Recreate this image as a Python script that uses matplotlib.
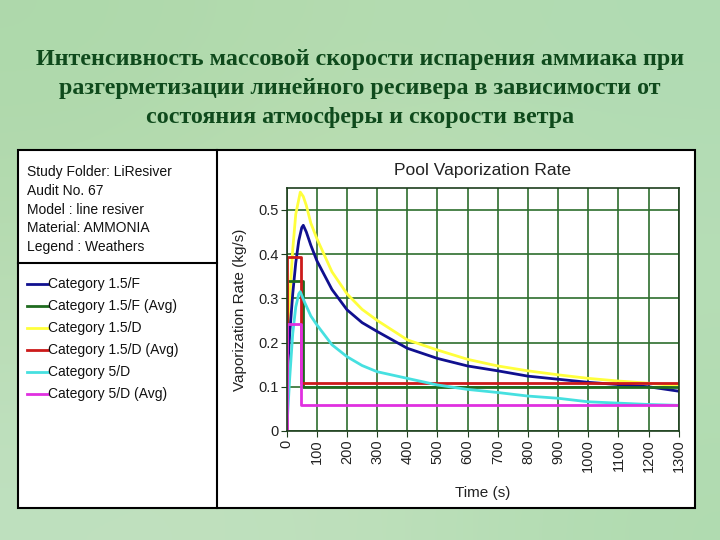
import numpy as np
import matplotlib.pyplot as plt
from matplotlib.patches import Rectangle
from matplotlib.lines import Line2D

# --- data ---
t_blue = [0, 10, 20, 30, 40, 50, 55, 65, 80, 100, 150, 200, 250, 300, 400, 500,
          600, 700, 800, 900, 1000, 1100, 1200, 1300]
v_blue = [0.10, 0.22, 0.31, 0.38, 0.43, 0.46, 0.465, 0.45, 0.42, 0.385, 0.32,
          0.274, 0.245, 0.225, 0.187, 0.164, 0.147, 0.136, 0.124, 0.117, 0.110,
          0.105, 0.100, 0.090]

t_yellow = [0, 10, 20, 30, 45, 55, 65, 80, 100, 150, 200, 250, 300, 400, 500,
            600, 700, 800, 900, 1000, 1100, 1200, 1300]
v_yellow = [0.17, 0.30, 0.41, 0.49, 0.54, 0.53, 0.51, 0.47, 0.435, 0.36, 0.31,
            0.275, 0.25, 0.206, 0.183, 0.162, 0.147, 0.136, 0.127, 0.119, 0.113,
            0.108, 0.102]

t_cyan = [0, 10, 20, 30, 40, 45, 60, 80, 100, 150, 200, 250, 300, 400, 500,
          600, 700, 800, 900, 1000, 1100, 1200, 1300]
v_cyan = [0.0, 0.12, 0.22, 0.28, 0.31, 0.315, 0.29, 0.26, 0.24, 0.195, 0.168,
          0.148, 0.134, 0.119, 0.104, 0.094, 0.087, 0.079, 0.074, 0.066, 0.063,
          0.060, 0.058]

t_green_avg = [0, 0, 55, 55, 1300]
v_green_avg = [0, 0.34, 0.34, 0.10, 0.10]
t_red_avg = [0, 0, 47, 47, 1300]
v_red_avg = [0, 0.393, 0.393, 0.108, 0.108]
t_mag_avg = [0, 0, 47, 47, 1300]
v_mag_avg = [0, 0.243, 0.243, 0.058, 0.058]

x_ticks = list(range(0, 1301, 100))
y_ticks = [0, 0.1, 0.2, 0.3, 0.4, 0.5]
y_labels = ['0', '0.1', '0.2', '0.3', '0.4', '0.5']

legend_names = ['Category 1.5/F', 'Category 1.5/F (Avg)', 'Category 1.5/D',
                'Category 1.5/D (Avg)', 'Category 5/D', 'Category 5/D (Avg)']
colors = ['#10108f', '#1f6b1f', '#ffff3c', '#cc1a1a', '#46e0e0', '#e030e0']

info_lines = ['Study Folder: LiResiver', 'Audit No. 67', 'Model : line resiver',
              'Material: AMMONIA', 'Legend : Weathers']

title = ('Интенсивность массовой скорости испарения аммиака при\n'
         'разгерметизации линейного ресивера в зависимости от\n'
         'состояния атмосферы и скорости ветра')

W, H = 720, 540
plt.rcParams['font.family'] = ['Liberation Sans', 'DejaVu Sans']

fig = plt.figure(figsize=(7.2, 5.4), dpi=100)

# background gradient
bg = fig.add_axes([0, 0, 1, 1], zorder=-10)
grad = np.array([
    [[0.68, 0.85, 0.67], [0.71, 0.86, 0.69], [0.69, 0.86, 0.70]],
    [[0.72, 0.86, 0.70], [0.78, 0.88, 0.71], [0.72, 0.87, 0.72]],
    [[0.75, 0.88, 0.75], [0.75, 0.88, 0.74], [0.69, 0.86, 0.69]],
])
bg.imshow(grad, aspect='auto', interpolation='bicubic', extent=[0, 1, 0, 1])
bg.set_axis_off()


def fx(x):
    return x / W


def fy(y):
    return 1 - y / H


# white panel with borders
fig.patches.append(Rectangle((fx(18), fy(508)), fx(695) - fx(18), fy(150) - fy(508),
                             transform=fig.transFigure, facecolor='white',
                             edgecolor='black', lw=1.5, zorder=-5))
fig.add_artist(Line2D([fx(217), fx(217)], [fy(150), fy(508)], color='black', lw=1.5))
fig.add_artist(Line2D([fx(18), fx(217)], [fy(263), fy(263)], color='black', lw=1.5))

fig.text(0.5, fy(89), title, ha='center', va='center', fontsize=17.3,
         fontweight='bold', family='Liberation Serif', color='#0f4a1c',
         linespacing=1.5)

for i, s in enumerate(info_lines):
    fig.text(fx(27), fy(172 + i * 18.8), s, fontsize=10, va='center', color='#111111')

for i, (name, c) in enumerate(zip(legend_names, colors)):
    y = fy(284 + i * 22)
    fig.add_artist(Line2D([fx(27), fx(48)], [y, y], color=c, lw=2))
    fig.text(fx(48), y, name, fontsize=10, va='center', color='#111111')

ax = fig.add_axes([fx(286.7), fy(431), fx(678.7) - fx(286.7), fy(187.7) - fy(431)])
ax.plot(t_yellow, v_yellow, color=colors[2], lw=2)
ax.plot(t_blue, v_blue, color=colors[0], lw=2)
ax.plot(t_green_avg, v_green_avg, color=colors[1], lw=2)
ax.plot(t_red_avg, v_red_avg, color=colors[3], lw=2)
ax.plot(t_cyan, v_cyan, color=colors[4], lw=2)
ax.plot(t_mag_avg, v_mag_avg, color=colors[5], lw=2)

ax.set_xlim(0, 1300)
ax.set_ylim(0, 0.55)
ax.set_xticks(x_ticks)
ax.set_xticklabels([str(v) for v in x_ticks], rotation=90, fontsize=10.5)
ax.set_yticks(y_ticks)
ax.set_yticklabels(y_labels, fontsize=10.5)
ax.grid(True, color='#2e6e2e', lw=1.2)
ax.set_axisbelow(True)
for sp in ax.spines.values():
    sp.set_color('#1e3e1e')
    sp.set_linewidth(1.2)
ax.tick_params(length=4, color='#1e3e1e', labelcolor='#222222', pad=2)
ax.set_title('Pool Vaporization Rate', fontsize=12.5, pad=9, color='#222222')
ax.set_xlabel('Time (s)', fontsize=11, labelpad=10, color='#222222')
ax.set_ylabel('Vaporization Rate (kg/s)', fontsize=11, labelpad=8, color='#222222')

fig.savefig('out.png', dpi=100)
